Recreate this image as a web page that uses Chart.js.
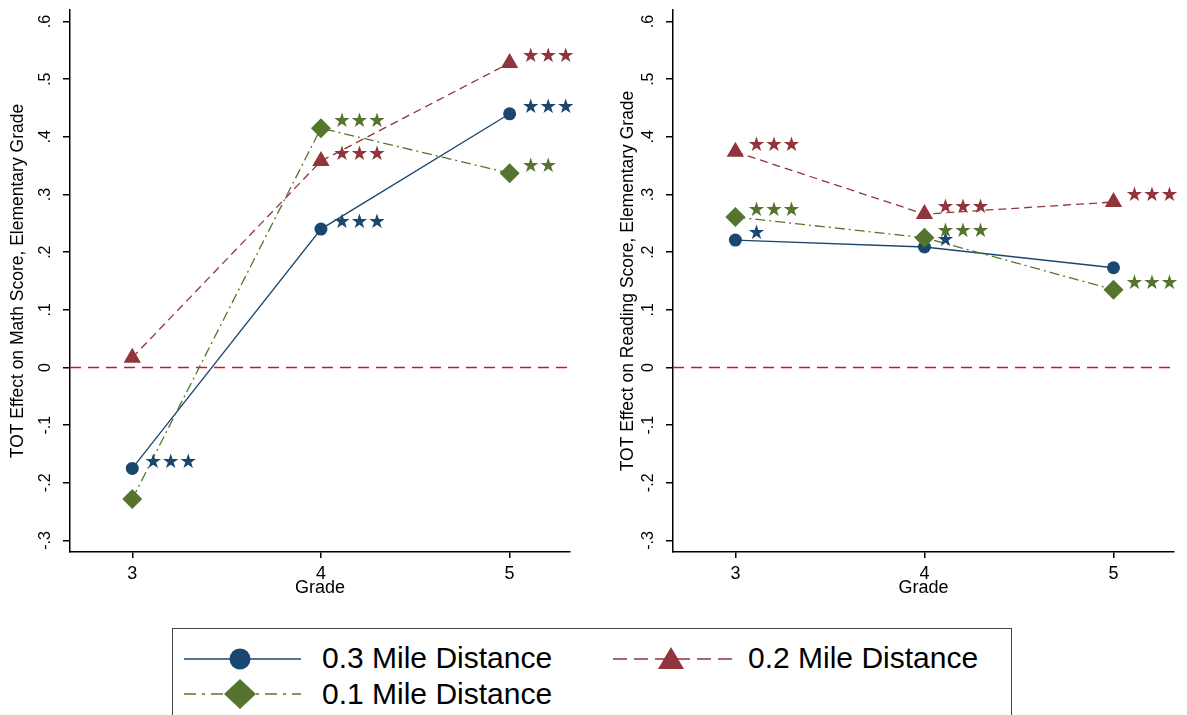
<!DOCTYPE html>
<html>
<head>
<meta charset="utf-8">
<script src="https://cdn.jsdelivr.net/npm/chart.js@4.4.0/dist/chart.umd.min.js"></script>
<style>
  body { margin: 0; background: #fff; width: 1187px; height: 715px; overflow: hidden; position: relative;
         font-family: "Liberation Sans", Arial, sans-serif; }
  #mathWrap { position: absolute; left: 0; top: 0; }
  #readWrap { position: absolute; left: 600px; top: 0; }
  .legend { position: absolute; left: 172px; top: 628px; width: 840px; height: 110px;
            border: 1.5px solid #444; box-sizing: border-box; }
  .legend svg { position: absolute; }
  .legend span { position: absolute; font-size: 30px; color: #000; line-height: 30px; white-space: nowrap; }
</style>
</head>
<body>
<div id="mathWrap"><canvas id="mathChart" width="585" height="610"></canvas></div>
<div id="readWrap"><canvas id="readChart" width="587" height="610"></canvas></div>

<div class="legend">
  <svg style="left:8px;top:16px" width="125" height="28">
    <line x1="3" y1="14" x2="120" y2="14" stroke="#1a476f" stroke-width="1.5"/>
    <circle cx="59" cy="14" r="10.5" fill="#1a476f"/>
  </svg>
  <span style="left:149px;top:14px">0.3 Mile Distance</span>
  <svg style="left:436px;top:14px" width="128" height="30">
    <line x1="4" y1="16" x2="123" y2="16" stroke="#90353b" stroke-width="1.5" stroke-dasharray="14 7"/>
    <polygon points="49,26 75,26 62,4" fill="#90353b"/>
  </svg>
  <span style="left:575px;top:14px">0.2 Mile Distance</span>
  <svg style="left:8px;top:48px" width="125" height="34">
    <line x1="3" y1="17" x2="120" y2="17" stroke="#55752f" stroke-width="1.5" stroke-dasharray="12 6 3 6"/>
    <polygon points="43,17 59,2 75,17 59,32" fill="#55752f"/>
  </svg>
  <span style="left:149px;top:50px">0.1 Mile Distance</span>
</div>

<script>
const grades = [3, 4, 5];
const xMin = 2.67;
const xMax = 5.32;
const yMin = -0.32;
const yMax = 0.62;
const yTicks = [-0.3, -0.2, -0.1, 0, 0.1, 0.2, 0.3, 0.4, 0.5, 0.6];
const yTickLabels = ["-.3", "-.2", "-.1", "0", ".1", ".2", ".3", ".4", ".5", ".6"];
const seriesNames = ["0.3 Mile Distance", "0.2 Mile Distance", "0.1 Mile Distance"];

// math panel
const mathMile03 = [-0.175, 0.240, 0.440];
const mathMile02 = [0.017, 0.358, 0.528];
const mathMile01 = [-0.228, 0.415, 0.337];
const mathStars03 = ["***", "***", "***"];
const mathStars02 = ["", "***", "***"];
const mathStars01 = ["", "***", "**"];

// reading panel
const readMile03 = [0.221, 0.209, 0.173];
const readMile02 = [0.374, 0.266, 0.287];
const readMile01 = [0.261, 0.225, 0.135];
const readStars03 = ["*", "*", ""];
const readStars02 = ["***", "***", "***"];
const readStars01 = ["***", "***", "***"];

const blue = "#1a476f";
const red = "#90353b";
const green = "#55752f";

function pts(vals) {
    return vals.map((v, i) => ({ x: grades[i], y: v }));
}

function makeSets(m03, m02, m01, s03, s02, s01) {
    return [
        { label: seriesNames[0], data: pts(m03), stars: s03, borderColor: blue, backgroundColor: blue,
          borderWidth: 1.3, pointStyle: "circle", pointRadius: 6.5, pointBorderWidth: 0, order: 2 },
        { label: seriesNames[1], data: pts(m02), stars: s02, borderColor: red, backgroundColor: red,
          borderWidth: 1.3, borderDash: [8, 5], pointStyle: "triangle", pointRadius: 10, pointBorderWidth: 0, order: 1 },
        { label: seriesNames[2], data: pts(m01), stars: s01, borderColor: green, backgroundColor: green,
          borderWidth: 1.3, borderDash: [10, 4, 2, 4], pointStyle: "rectRot", pointRadius: 10, pointBorderWidth: 0, order: 0 }
    ];
}

// zero line, significance stars, rotated y tick labels
const extras = {
    id: "extras",
    beforeDatasetsDraw(chart) {
        const ctx = chart.ctx;
        const a = chart.chartArea;
        const y0 = chart.scales.y.getPixelForValue(0);
        ctx.save();
        ctx.strokeStyle = "#c8143c";
        ctx.lineWidth = 1.5;
        ctx.setLineDash([11, 7]);
        ctx.beginPath();
        ctx.moveTo(a.left, y0);
        ctx.lineTo(a.right, y0);
        ctx.stroke();
        ctx.restore();
    },
    afterDatasetsDraw(chart) {
        const ctx = chart.ctx;
        ctx.save();
        ctx.font = '20px "DejaVu Sans"';
        ctx.textAlign = "center";
        ctx.textBaseline = "middle";
        chart.data.datasets.forEach((ds, i) => {
            const meta = chart.getDatasetMeta(i);
            ctx.fillStyle = ds.borderColor;
            meta.data.forEach((p, j) => {
                const s = ds.stars[j];
                for (let k = 0; k < s.length; k++) {
                    ctx.fillText("\u2605", p.x + 21 + k * 17.5, p.y - 6);
                }
            });
        });
        ctx.restore();
    },
    afterDraw(chart) {
        const ctx = chart.ctx;
        const sy = chart.scales.y;
        const x = chart.chartArea.left - 24;
        ctx.save();
        ctx.font = '16px "Liberation Sans", Arial';
        ctx.fillStyle = "#000";
        ctx.textAlign = "center";
        ctx.textBaseline = "middle";
        yTicks.forEach((v, i) => {
            ctx.save();
            ctx.translate(x, sy.getPixelForValue(v));
            ctx.rotate(-Math.PI / 2);
            ctx.fillText(yTickLabels[i], 0, 0);
            ctx.restore();
        });
        ctx.restore();
    }
};

function makeChart(id, yTitle, datasets, yWidth, titlePad, rightPad) {
    return new Chart(document.getElementById(id), {
        type: "line",
        data: { datasets: datasets },
        options: {
            responsive: false,
            animation: false,
            layout: { padding: { top: 8, right: rightPad, left: 0, bottom: 0 } },
            plugins: { legend: { display: false }, tooltip: { enabled: false } },
            scales: {
                x: {
                    type: "linear",
                    min: xMin,
                    max: xMax,
                    afterBuildTicks: s => { s.ticks = grades.map(v => ({ value: v })); },
                    afterFit: s => { s.height = 58; },
                    ticks: { color: "#000", font: { size: 18, family: "Liberation Sans" }, padding: 5,
                             callback: v => String(v) },
                    grid: { display: true, drawOnChartArea: false, drawTicks: true, tickLength: 6,
                            color: "#000", lineWidth: 1.5 },
                    border: { display: true, color: "#000", width: 1.5 },
                    title: { display: true, text: "Grade", color: "#000",
                             font: { size: 18, family: "Liberation Sans" }, padding: { top: 0, bottom: 11 } }
                },
                y: {
                    type: "linear",
                    min: yMin,
                    max: yMax,
                    afterBuildTicks: s => { s.ticks = yTicks.map(v => ({ value: v })); },
                    afterFit: s => { s.width = yWidth; },
                    ticks: { display: false },
                    grid: { display: true, drawOnChartArea: false, drawTicks: true, tickLength: 7,
                            color: "#000", lineWidth: 1.5 },
                    border: { display: true, color: "#000", width: 1.5 },
                    title: { display: true, text: yTitle, color: "#000",
                             font: { size: 17.5, family: "Liberation Sans" }, padding: { top: titlePad, bottom: 0 } }
                }
            }
        },
        plugins: [extras]
    });
}

makeChart("mathChart", "TOT Effect on Math Score, Elementary Grade",
    makeSets(mathMile03, mathMile02, mathMile01, mathStars03, mathStars02, mathStars01), 70, 8, 15);
makeChart("readChart", "TOT Effect on Reading Score, Elementary Grade",
    makeSets(readMile03, readMile02, readMile01, readStars03, readStars02, readStars01), 73, 18, 13);
</script>
</body>
</html>
